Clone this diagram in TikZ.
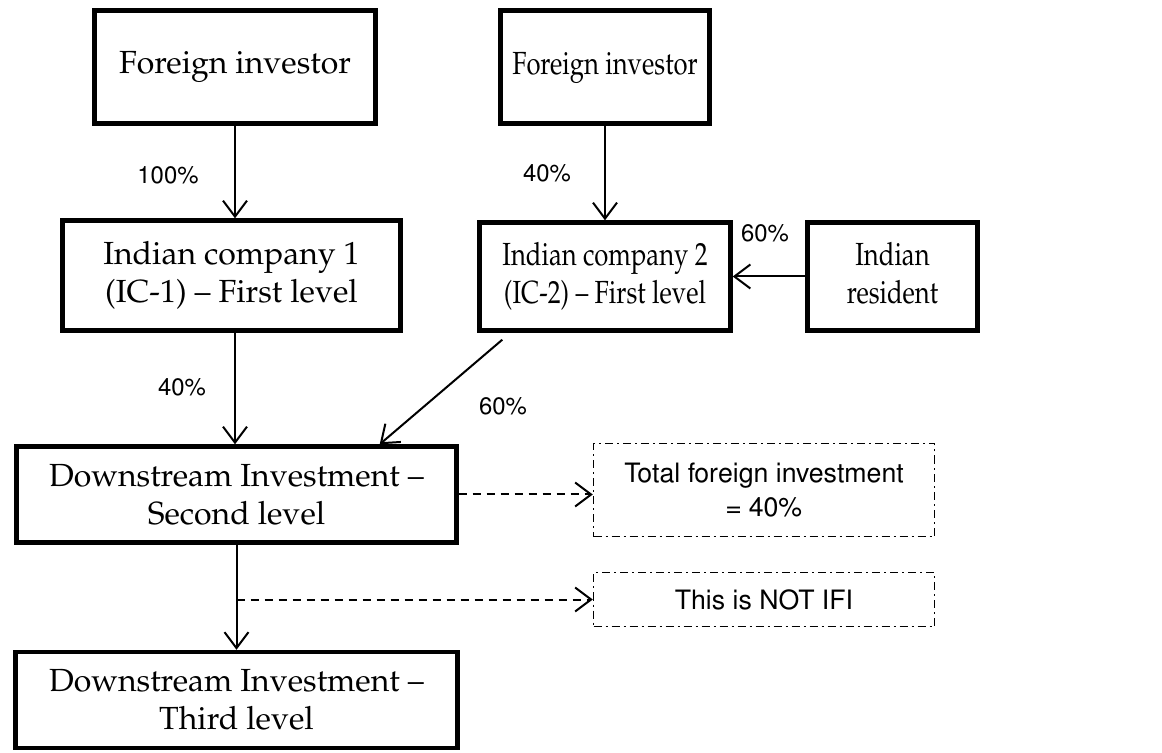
\documentclass[tikz,border=0pt]{standalone}
\usepackage[T1]{fontenc}
\usepackage{mathpazo}
\usepackage[scaled=0.92]{helvet}
\usepackage{graphicx}
\usepackage{tikz}
\usetikzlibrary{arrows.meta,positioning,calc}
\newcommand{\boxfont}{\fontsize{16}{19}\selectfont}
\newcommand{\pctfont}{\sffamily\fontsize{13}{15}\selectfont}
\newcommand{\notefont}{\sffamily\fontsize{14.5}{17}\selectfont}
\newcommand{\squeeze}[1]{\scalebox{0.8}[1]{\begin{tabular}{@{}c@{}}#1\end{tabular}}}
\tikzset{
  entity/.style={rectangle, draw, line width=2.2pt, align=center, font=\boxfont, inner sep=0pt},
  notebox/.style={rectangle, draw, line width=0.7pt, dash pattern=on 4pt off 2pt on 1pt off 2pt,
                  align=center, font=\notefont, inner sep=0pt},
  share/.style={font=\pctfont, inner sep=0pt},
  arr/.style={-{Straight Barb[length=8pt,width=12pt]}, line width=1pt},
  dasharr/.style={arr, dash pattern=on 4pt off 3pt},
}

\begin{document}
\begin{tikzpicture}[x=0.5pt,y=-0.5pt]
    \useasboundingbox (0,0) rectangle (1162,753);
    \node[entity, minimum width=140.5pt, minimum height=56.5pt] (fi1) at (235,67) {Foreign investor};
    \node[entity, minimum width=104.5pt, minimum height=56.5pt] (fi2) at (605,67) {\squeeze{Foreign investor}};
    \node[entity, minimum width=169pt, minimum height=55pt] (ic1) at (231.5,275.5)
      {Indian company 1\\(IC-1) -- First level};
    \node[entity, minimum width=125.5pt, minimum height=54pt] (ic2) at (605,276.5)
      {\squeeze{Indian company 2\\(IC-2) -- First level}};
    \node[entity, minimum width=85pt, minimum height=54pt] (res) at (892.5,276.5) {\squeeze{Indian\\resident}};
    \node[entity, minimum width=220pt, minimum height=48pt] (ds2) at (236.5,494.5)
      {Downstream Investment --\\Second level};
    \node[entity, minimum width=221pt, minimum height=48pt] (ds3) at (236.5,700)
      {Downstream Investment --\\Third level};
    \node[notebox, minimum width=170.5pt, minimum height=46.5pt] (tot) at (764,490)
      {Total foreign investment\\= 40\%};
    \node[notebox, minimum width=170.5pt, minimum height=27pt] (nifi) at (764,599.5) {This is NOT IFI};
    \node[share] (p100) at (168,175) {100\%};
    \node[share] (p40a) at (547,173) {40\%};
    \node[share] (p60a) at (765,233) {60\%};
    \node[share] (p40b) at (182,387) {40\%};
    \node[share] (p60b) at (503,406) {60\%};
    \coordinate (brk) at (ds2.south |- nifi.west);
    \draw[arr] (fi1.south) -- (fi1.south |- ic1.north); \draw[arr] (fi2) -- (ic2);
    \draw[arr] (res) -- (ic2);
    \draw[arr] (ic1.south -| fi1.south) -- (fi1.south |- ds2.north);
    \draw[arr] ([xshift=12.5pt,yshift=-3.5pt]ic2.south west) -- ([xshift=-39.5pt]ds2.north east);
    \draw[arr] (ds2) -- (ds3);
    \draw[dasharr] (ds2.east) -- (ds2.east -| tot.west);
    \draw[dasharr] (brk) -- (nifi.west);
  \end{tikzpicture}
\end{document}
